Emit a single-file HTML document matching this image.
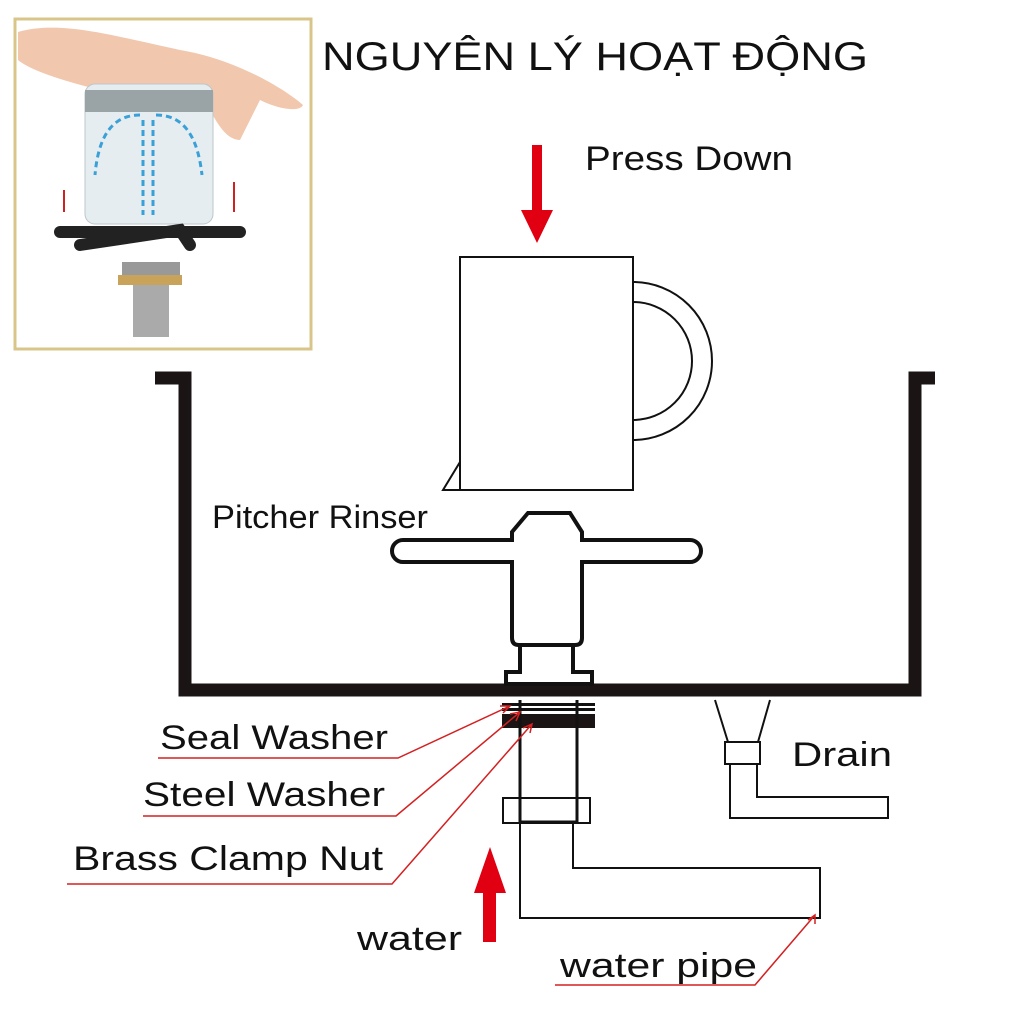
<!DOCTYPE html>
<html><head><style>body{margin:0;background:#fff}svg{display:block}</style></head><body>
<svg width="1024" height="1024" viewBox="0 0 1024 1024" xmlns="http://www.w3.org/2000/svg" font-family="Liberation Sans, sans-serif">
<rect width="1024" height="1024" fill="#fff"/>
<!-- photo -->
<rect x="15" y="19" width="296" height="330" fill="#fff" stroke="#d9c48a" stroke-width="3"/>
<path d="M18 32 C60 20 110 35 180 50 C230 58 280 85 303 105 C300 112 280 110 260 100 L240 140 C225 140 215 120 205 100 L100 90 C60 80 30 70 18 60Z" fill="#f1c7ae"/>
<rect x="85" y="84" width="128" height="140" rx="10" fill="#e6edf0" stroke="#bcc6ca"/>
<rect x="85" y="90" width="128" height="22" fill="#9aa3a6"/>
<g stroke="#3aa0d8" stroke-width="3" stroke-dasharray="6 4" fill="none">
<path d="M143 120 V215 M153 120 V215 M140 115 C110 115 98 140 95 175 M156 115 C186 115 198 140 202 175"/></g>
<path d="M60 232 H240" stroke="#222" stroke-width="12" stroke-linecap="round"/>
<path d="M80 245 L180 230 L190 245" stroke="#222" stroke-width="12" stroke-linecap="round" fill="none"/>
<rect x="122" y="262" width="58" height="15" fill="#999"/>
<rect x="118" y="275" width="64" height="10" fill="#c9a35a"/>
<rect x="133" y="285" width="36" height="52" fill="#aaa"/>
<path d="M64 190 V212 M234 182 V212" stroke="#c22" stroke-width="2"/>
<!-- title -->
<text x="322" y="70" font-size="40" fill="#111" textLength="546" lengthAdjust="spacingAndGlyphs">NGUYÊN LÝ HOẠT ĐỘNG</text>
<text x="585" y="170" font-size="34" fill="#111" textLength="208" lengthAdjust="spacingAndGlyphs">Press Down</text>
<!-- press arrow -->
<path d="M532 145 H542 V210 H553 L537 243 L521 210 H532Z" fill="#e00012"/>
<!-- mug -->
<g fill="none" stroke="#111" stroke-width="2">
<rect x="460" y="257" width="173" height="233"/>
<path d="M633 282 A79 79 0 0 1 633 440 M633 302 A59 59 0 0 1 633 420"/>
<path d="M460 462 L443 490 H460"/>
</g>
<!-- sink -->
<path d="M155 378 H185 V690 H915 V378 H935" fill="none" stroke="#1a1414" stroke-width="13"/>
<!-- rinser -->
<g fill="none" stroke="#111" stroke-width="4">
<path d="M512 540 V532 L528 513 H570 L582 532 V540 H690 A11 11 0 0 1 690 562 H582 V638 Q582 645 575 645 H519 Q512 645 512 638 V562 H403 A11 11 0 0 1 403 540 Z"/>
<path d="M520 645 V672 H506 V684 H592 V672 H573 V645"/>
</g>
<!-- washers -->
<rect x="502" y="703" width="93" height="3" fill="#111"/>
<rect x="502" y="708" width="93" height="3" fill="#111"/>
<rect x="502" y="714" width="93" height="14" fill="#1a1414"/>
<g fill="none" stroke="#111" stroke-width="3"><path d="M520 700 V822 M577 700 V822 M520 822 H577"/></g>
<g fill="none" stroke="#111" stroke-width="2">
<rect x="503" y="798" width="87" height="25"/>
<path d="M520 822 V918 H820 V868 H573 V822"/>
<path d="M715 700 L728 742 M770 700 L758 742"/>
<rect x="725" y="742" width="35" height="22"/>
<path d="M730 764 V818 H888 V797 H757 V764"/>
</g>
<text x="792" y="766" font-size="34" fill="#111" textLength="100" lengthAdjust="spacingAndGlyphs">Drain</text>
<text x="212" y="528" font-size="32" fill="#111" textLength="216" lengthAdjust="spacingAndGlyphs">Pitcher Rinser</text>
<!-- labels -->
<g font-size="34" fill="#111">
<text x="160" y="749" textLength="228" lengthAdjust="spacingAndGlyphs">Seal Washer</text>
<text x="143" y="806" textLength="242" lengthAdjust="spacingAndGlyphs">Steel Washer</text>
<text x="73" y="870" textLength="310" lengthAdjust="spacingAndGlyphs">Brass Clamp Nut</text>
<text x="357" y="950" textLength="105" lengthAdjust="spacingAndGlyphs">water</text>
<text x="560" y="977" textLength="197" lengthAdjust="spacingAndGlyphs">water pipe</text>
</g>
<g fill="none" stroke="#d42020" stroke-width="1.5">
<path d="M158 758 H398 L510 706 M500 706 L510 706 L503 713"/>
<path d="M143 816 H396 L520 712 M510 714 L520 712 L516 721"/>
<path d="M67 884 H392 L532 724 M523 728 L532 724 L530 733"/>
<path d="M555 985 H755 L815 915 M808 920 L815 915 L815 924"/>
</g>
<path d="M483 942 V893 H474 L490 847 L506 893 H496 V942Z" fill="#e00012"/>
</svg>
</body></html>
